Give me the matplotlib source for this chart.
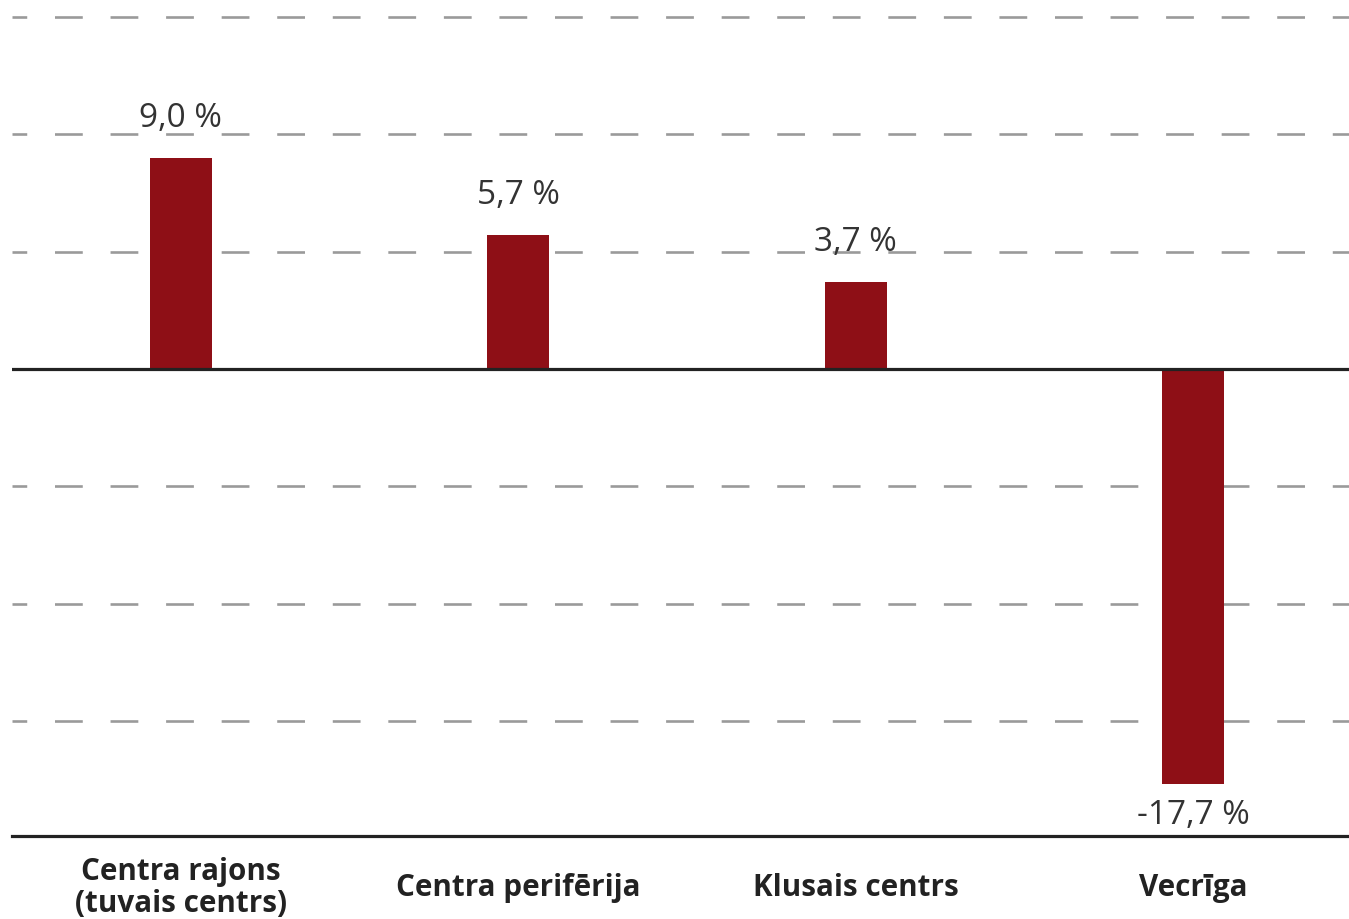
import matplotlib

matplotlib.use("Agg")
import matplotlib.pyplot as plt

# ---------------------------------------------------------------------------
# Data
# ---------------------------------------------------------------------------
categories = ["Centra rajons\n(tuvais centrs)", "Centra perifērija", "Klusais centrs", "Vecrīga"]
changes = [9.0, 5.7, 3.7, -17.7]
grid_levels = [15, 10, 5, -5, -10, -15]

BAR = "#8e0f16"
GRID = "#9a9a9a"
AXIS = "#222222"
TEXT = "#333333"

plt.rcParams["lines.scale_dashes"] = False

W, H = 1349, 920
fig = plt.figure(figsize=(W / 100, H / 100), dpi=100, facecolor="white")
ax = fig.add_axes([12 / W, (H - 837) / H, (W - 12) / W, 837 / H])

x = list(range(len(categories)))
ax.bar(x, changes, width=0.184, color=BAR, zorder=3)

for lvl in grid_levels:
    ax.axhline(lvl, color=GRID, linewidth=1.9, linestyle=(9.4, (20, 20)), zorder=1)
ax.axhline(0, color=AXIS, linewidth=2.3, zorder=4)

for xi, v in zip(x, changes):
    label = f"{v:.1f} %".replace(".", ",")
    offset = 23 if v >= 0 else -27.5
    ax.annotate(label, xy=(xi, v), xytext=(0, offset), textcoords="offset points",
                ha="center", va="baseline", fontsize=24, color=TEXT,
                family="Open Sans", zorder=5)

ax.set_xlim(-0.5, -0.5 + (W - 12) / 337.5)
ax.set_ylim(-19.9, 15.76)

ax.set_xticks(x)
ax.set_xticklabels(categories, fontsize=21.3, fontweight="bold", color=AXIS,
                   family="Open Sans", linespacing=1.08, va="center")
ax.tick_params(axis="x", length=0, pad=37)
ax.set_yticks([])

for side in ["top", "right", "left"]:
    ax.spines[side].set_visible(False)
ax.spines["bottom"].set_color(AXIS)
ax.spines["bottom"].set_linewidth(2.3)
ax.set_facecolor("white")

fig.savefig("out.png", dpi=100, facecolor="white")
plt.close(fig)
